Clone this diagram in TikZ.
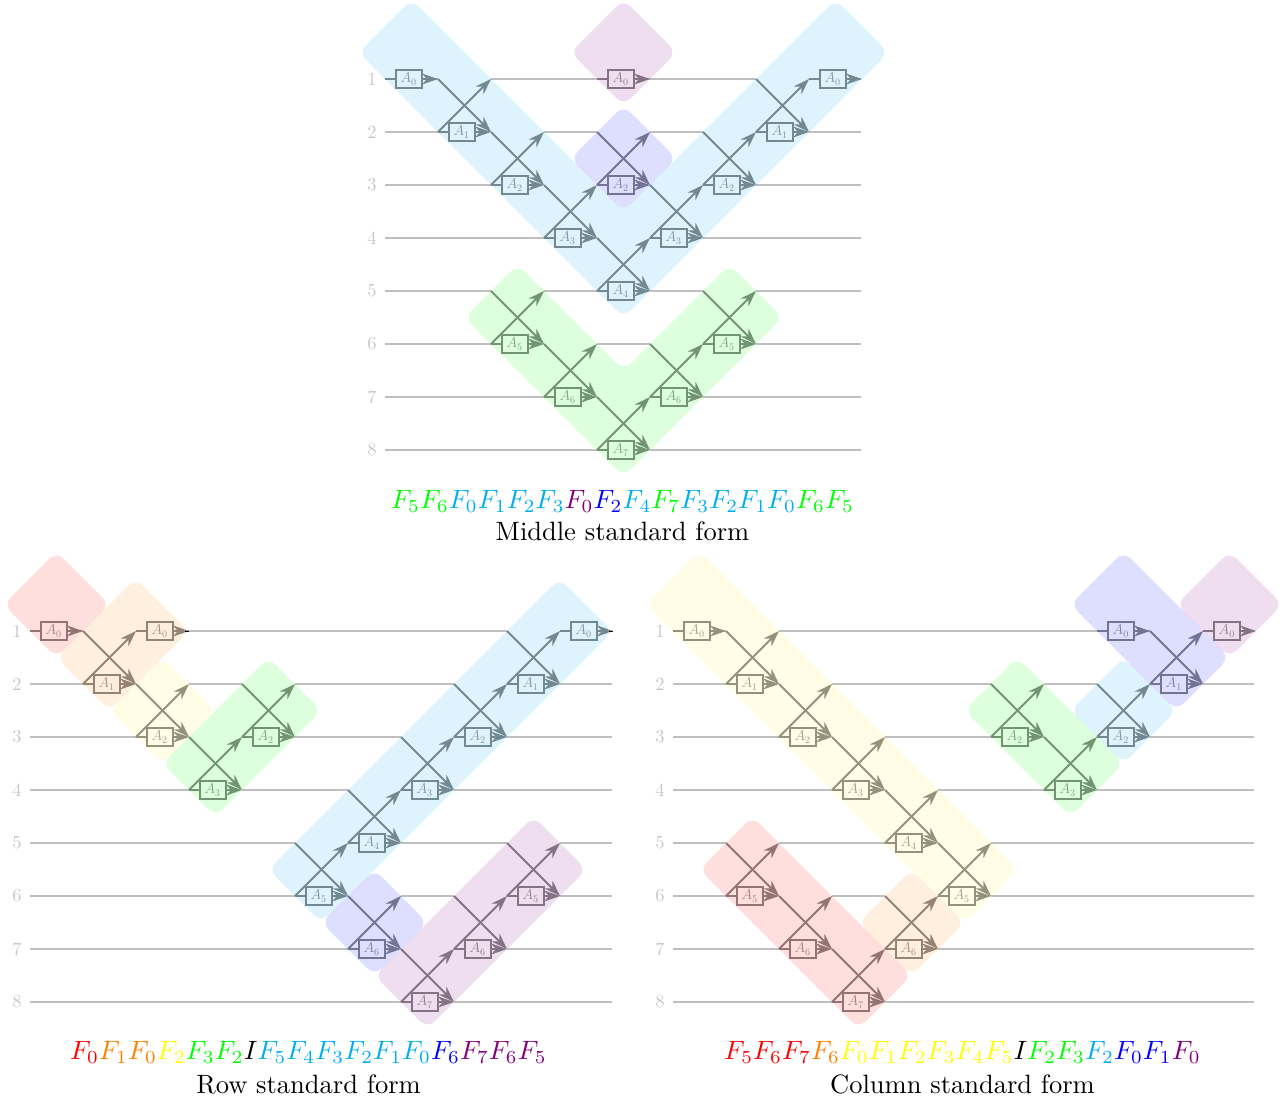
\documentclass[tikz,border=0pt]{standalone}
\usetikzlibrary{arrows.meta}
\definecolor{cR}{RGB}{255,0,0}
\definecolor{cO}{RGB}{255,128,0}
\definecolor{cY}{RGB}{255,255,0}
\definecolor{cG}{RGB}{0,255,0}
\definecolor{cC}{RGB}{0,174,239}
\definecolor{cB}{RGB}{0,0,255}
\definecolor{cP}{RGB}{128,0,128}
\definecolor{bR}{RGB}{255,0,0}
\definecolor{bO}{RGB}{255,128,0}
\definecolor{bY}{RGB}{255,240,60}
\definecolor{bG}{RGB}{0,255,0}
\definecolor{bC}{RGB}{0,165,240}
\definecolor{bB}{RGB}{0,0,255}
\definecolor{bP}{RGB}{128,0,128}
\colorlet{gatecol}{black!48}
\tikzset{
  wire/.style={draw=black!25,line width=2.3pt},
  gap/.style={draw=white,line width=2.7pt},
  gateline/.style={draw=gatecol,line width=2pt,-{Stealth[length=16pt,width=11pt,inset=5pt]}},
  gatebox/.style={draw=gatecol,line width=2pt,fill=white,text=black!42,minimum width=25.6pt,minimum height=17.6pt,inner sep=0pt,font=\fontsize{14}{14}\selectfont},
  rowlabel/.style={text=black!22,scale=1.85,inner sep=0pt},
  bg/.style={fill=#1,fill opacity=.13,rounded corners=10pt,draw=none},
  caption/.style={scale=2.65,inner sep=0pt},
  tipmark/.style={draw=black,line width=1pt}
}
% panel wires: origin x, end x, top y
\newcommand{\Wires}[4]{%
  \foreach \r in {1,...,8}{%
    \pgfmathsetmacro\yy{#3+53*(\r-1)}
    \coordinate (#4w\r s) at (#1,\yy);
    \coordinate (#4w\r e) at (#2,\yy);
    \node[rowlabel] (#4l\r) at (#1-13,\yy) {\r};
    \draw[wire] (#4w\r s) -- (#4w\r e);
  }}
% butterfly: id, x0, top y of upper row, label index
\newcommand{\Bf}[4]{%
  \coordinate (#1a) at (#2,#3);
  \coordinate (#1b) at (#2+53,#3);
  \coordinate (#1c) at (#2,#3+53);
  \coordinate (#1d) at (#2+53,#3+53);
  \draw[gap] (#1a) -- (#1b);
  \draw[gap] (#1c) -- (#1d);
  \draw[gateline] (#1a) -- (#1d);
  \draw[gateline] (#1c) -- (#1b);
  \draw[gateline] (#1c) -- (#1d);
  \node[gatebox] (#1n) at (#2+23.7,#3+53) {$A_{#4}$};
}
% single: id, x0, y
\newcommand{\Sg}[3]{%
  \coordinate (#1c) at (#2,#3);
  \coordinate (#1d) at (#2+53,#3);
  \draw[gateline] (#1c) -- (#1d);
  \node[gatebox] (#1n) at (#2+23.7,#3) {$A_{0}$};
}
\newcommand{\Dsc}[5]{\path[bg=#1] (#2-53,#3) -- (#2,#3-53) -- (#4+53,#5) -- (#4,#5+53) -- cycle;}
\newcommand{\Asc}[5]{\path[bg=#1] (#2-53,#3) -- (#4,#5-53) -- (#4+53,#5) -- (#2,#3+53) -- cycle;}
\newcommand{\F}[2]{\textcolor{#1}{F_{#2}}}
\begin{document}
\begin{tikzpicture}[x=1pt,y=-1pt]
\useasboundingbox (0,0) rectangle (1287,1103);
% ---------- middle
\Wires{385}{861}{79}{m}
\Sg{ma}{385}{79}
\Bf{mb}{438}{79}{1}
\Bf{mc}{491}{132}{2}
\Bf{md}{544}{185}{3}
\Sg{me}{597}{79}
\Bf{mf}{597}{132}{2}
\Bf{mg}{597}{238}{4}
\Bf{mh}{650}{185}{3}
\Bf{mi}{703}{132}{2}
\Bf{mj}{756}{79}{1}
\Sg{mk}{809}{79}
\Bf{ml}{491}{291}{5}
\Bf{mm}{544}{344}{6}
\Bf{mn}{597}{397}{7}
\Bf{mo}{650}{344}{6}
\Bf{mp}{703}{291}{5}
\path[bg=bC] (358.5,52.5) -- (411.5,-0.5) -- (623.5,211.5) -- (835.5,-0.5) -- (888.5,52.5) -- (623.5,317.5) -- cycle;
\path[bg=bG] (464.5,317.5) -- (517.5,264.5) -- (623.5,370.5) -- (729.5,264.5) -- (782.5,317.5) -- (623.5,476.5) -- cycle;
\Dsc{bP}{623.5}{52.5}{623.5}{52.5}
\Dsc{bB}{623.5}{158.5}{623.5}{158.5}
\node[caption] (mcap1) at (622.5,501) {$\F{cG}{5}\F{cG}{6}\F{cC}{0}\F{cC}{1}\F{cC}{2}\F{cC}{3}\F{cP}{0}\F{cB}{2}\F{cC}{4}\F{cG}{7}\F{cC}{3}\F{cC}{2}\F{cC}{1}\F{cC}{0}\F{cG}{6}\F{cG}{5}$};
\node[caption] (mcap2) at (622.5,531) {Middle standard form};
% ---------- row
\Wires{30}{612}{631}{r}
\Sg{ra}{30}{631}
\Bf{rb}{83}{631}{1}
\Sg{rc}{136}{631}
\Bf{rd}{136}{684}{2}
\Bf{re}{189}{737}{3}
\Bf{rf}{242}{684}{2}
\Bf{rg}{295}{843}{5}
\Bf{rh}{348}{790}{4}
\Bf{ri}{401}{737}{3}
\Bf{rj}{454}{684}{2}
\Bf{rk}{507}{631}{1}
\Sg{rl}{560}{631}
\draw[tipmark] (rcd) ++(-4,0) coordinate (rct) -- (rcd);
\draw[tipmark] (rld) ++(-4,0) coordinate (rlt) -- (rld);
\Bf{rm}{348}{896}{6}
\Bf{rn}{401}{949}{7}
\Bf{ro}{454}{896}{6}
\Bf{rp}{507}{843}{5}
\Dsc{bR}{56.5}{604.5}{56.5}{604.5}
\Asc{bO}{109.5}{657.5}{135.5}{631.5}
\Dsc{bY}{162.5}{710.5}{162.5}{710.5}
\Asc{bG}{215.5}{763.5}{268.5}{710.5}
\Asc{bC}{321.5}{869.5}{559.5}{631.5}
\Dsc{bB}{374.5}{922.5}{374.5}{922.5}
\Asc{bP}{427.5}{975.5}{533.5}{869.5}
\node[caption] (rcap1) at (308.5,1052) {$\F{cR}{0}\F{cO}{1}\F{cO}{0}\F{cY}{2}\F{cG}{3}\F{cG}{2}I\F{cC}{5}\F{cC}{4}\F{cC}{3}\F{cC}{2}\F{cC}{1}\F{cC}{0}\F{cB}{6}\F{cP}{7}\F{cP}{6}\F{cP}{5}$};
\node[caption] (rcap2) at (308.5,1084) {Row standard form};
% ---------- column
\Wires{673}{1254}{631}{c}
\Sg{ca}{673}{631}
\Bf{cb}{726}{631}{1}
\Bf{cc}{779}{684}{2}
\Bf{cd}{832}{737}{3}
\Bf{ce}{885}{790}{4}
\Bf{cf}{938}{843}{5}
\Bf{cg}{726}{843}{5}
\Bf{ch}{779}{896}{6}
\Bf{ci}{832}{949}{7}
\Bf{cj}{885}{896}{6}
\Bf{ck}{991}{684}{2}
\Bf{cl}{1044}{737}{3}
\Bf{cm}{1097}{684}{2}
\Sg{cn}{1097}{631}
\Bf{co}{1150}{631}{1}
\Sg{cp}{1203}{631}
\Dsc{bY}{699.5}{604.5}{964.5}{869.5}
\Dsc{bR}{752.5}{869.5}{858.5}{975.5}
\Dsc{bO}{911.5}{922.5}{911.5}{922.5}
\Dsc{bG}{1017.5}{710.5}{1070.5}{763.5}
\Dsc{bC}{1123.5}{710.5}{1123.5}{710.5}
\Dsc{bB}{1123.5}{604.5}{1176.5}{657.5}
\Dsc{bP}{1229.5}{604.5}{1229.5}{604.5}
\node[caption] (ccap1) at (962.5,1052) {$\F{cR}{5}\F{cR}{6}\F{cR}{7}\F{cO}{6}\F{cY}{0}\F{cY}{1}\F{cY}{2}\F{cY}{3}\F{cY}{4}\F{cY}{5}I\F{cG}{2}\F{cG}{3}\F{cC}{2}\F{cB}{0}\F{cB}{1}\F{cP}{0}$};
\node[caption] (ccap2) at (962.5,1084) {Column standard form};
\end{tikzpicture}
\end{document}
